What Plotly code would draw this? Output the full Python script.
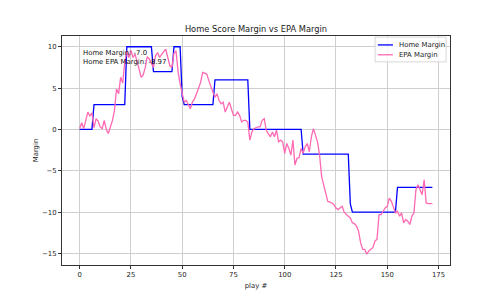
import plotly.graph_objects as go

plays = list(range(173))

home_margin = (
    [0] * 7 + [3] * 16 + [10] * 13 + [7] * 10 + [10] * 4 + [4]
    + [3] * 15 + [6] * 17 + [0] * 26 + [-3] * 23 + [-9]
    + [-10] * 22 + [-7] * 18
)

epa_margin = [
    0.1, 0.8, 0.1, 1.0, 2.1, 1.6, 2.0, 0.2, 1.3, 1.0,
    0.3, 0.1, 1.1, 0.0, -0.5, 0.3, 1.1, 2.3, 4.9, 4.3,
    6.3, 5.6, 8.1, 9.5, 8.7, 9.6, 8.7, 9.1, 8.3, 7.3,
    6.3, 6.6, 7.5, 8.8, 8.5, 7.9, 7.5, 8.9, 9.3, 8.7,
    9.1, 9.4, 9.7, 8.7, 7.7, 7.5, 9.2, 9.5, 7.0, 5.5,
    4.3, 3.3, 3.5, 2.9, 2.5, 3.3, 3.7, 4.3, 5.1, 5.7,
    6.9, 6.8, 6.7, 5.9, 5.1, 4.5, 3.9, 4.3, 3.5, 3.1,
    3.3, 2.1, 2.7, 3.3, 2.5, 1.7, 1.7, 2.1, 1.7, 0.9,
    1.1, 1.1, 0.9, -1.3, -0.3, 0.1, 0.2, 0.3, 0.3, 1.1,
    1.3, -0.1, -0.5, -0.9, -0.3, -0.9, -0.1, -1.5, -1.3, -1.5,
    -2.9, -1.7, -2.3, -3.1, -1.3, -4.3, -3.5, -3.4, -2.3, -2.9,
    -2.1, -1.7, -2.7, -0.9, 0.1, -0.7, -1.5, -3.1, -5.7, -6.7,
    -7.7, -8.7, -8.8, -8.9, -9.1, -9.5, -9.7, -9.5, -9.3, -10.0,
    -10.3, -10.5, -10.7, -11.3, -11.4, -11.7, -12.3, -13.7, -14.5, -14.5,
    -15.1, -14.7, -14.5, -14.3, -13.5, -13.3, -10.3, -10.3, -9.9, -9.5,
    -9.3, -8.3, -8.7, -9.3, -10.1, -9.9, -10.5, -10.1, -11.3, -10.9,
    -11.1, -11.5, -10.5, -10.1, -7.3, -6.7, -7.3, -7.9, -6.1, -8.9,
    -8.97, -8.97, -8.97,
]

series_names = ["Home Margin", "EPA Margin"]
series_colors = ["#0000ff", "#ff69b4"]

x_ticks = [0, 25, 50, 75, 100, 125, 150, 175]
y_ticks = [-15, -10, -5, 0, 5, 10]

final_home = -7.0
final_epa = -8.97

fig = go.Figure()
for name, ys, col in zip(series_names, [home_margin, epa_margin], series_colors):
    fig.add_trace(go.Scatter(x=plays, y=ys, mode="lines", name=name,
                             line=dict(color=col, width=1.3), showlegend=False))

axis_common = dict(
    showgrid=True, gridcolor="#cfcfcf", gridwidth=0.8,
    showline=True, linecolor="#333333", linewidth=1, mirror=True,
    ticks="outside", ticklen=3, tickwidth=0.8, tickcolor="#333333",
    tickfont=dict(size=6.9, color="#222222"), zeroline=False,
)

# custom matplotlib-like legend (paper coordinates)
shapes = [dict(type="rect", xref="paper", yref="paper", x0=0.807, x1=0.990,
               y0=0.887, y1=0.995, line=dict(color="#cccccc", width=0.8),
               fillcolor="rgba(255,255,255,0.8)", layer="above")]
annotations = []
for i, (name, col) in enumerate(zip(series_names, series_colors)):
    yy = 0.961 - i * 0.043
    shapes.append(dict(type="line", xref="paper", yref="paper", x0=0.814, x1=0.853,
                       y0=yy, y1=yy, line=dict(color=col, width=1.3), layer="above"))
    annotations.append(dict(text=name, xref="paper", yref="paper", x=0.863, y=yy,
                            xanchor="left", yanchor="middle", showarrow=False,
                            font=dict(size=6.9, color="#222222")))

annotations.append(dict(
    text=f"Home Margin: {final_home}<br>Home EPA Margin: {final_epa}",
    xref="paper", yref="paper", x=0.05, y=0.95, xanchor="left", yanchor="top",
    align="left", showarrow=False, font=dict(size=6.9, color="#111111")))

fig.update_layout(
    width=500, height=300,
    margin=dict(l=62, r=50, t=36, b=33),
    paper_bgcolor="white", plot_bgcolor="white",
    font=dict(family="DejaVu Sans", color="#222222"),
    title=dict(text="Home Score Margin vs EPA Margin", x=0.5, xref="paper",
               y=1 - 29 / 300, yref="container", yanchor="middle", xanchor="center",
               font=dict(size=8.3, color="#222222")),
    xaxis=dict(range=[-8.6, 180.6], tickvals=x_ticks,
               title=dict(text="play #", font=dict(size=6.9), standoff=4), **axis_common),
    yaxis=dict(range=[-16.4, 11.3], tickvals=y_ticks,
               title=dict(text="Margin", font=dict(size=6.9), standoff=2), **axis_common),
    showlegend=False,
    shapes=shapes,
    annotations=annotations,
)

fig.write_html("out.html")
